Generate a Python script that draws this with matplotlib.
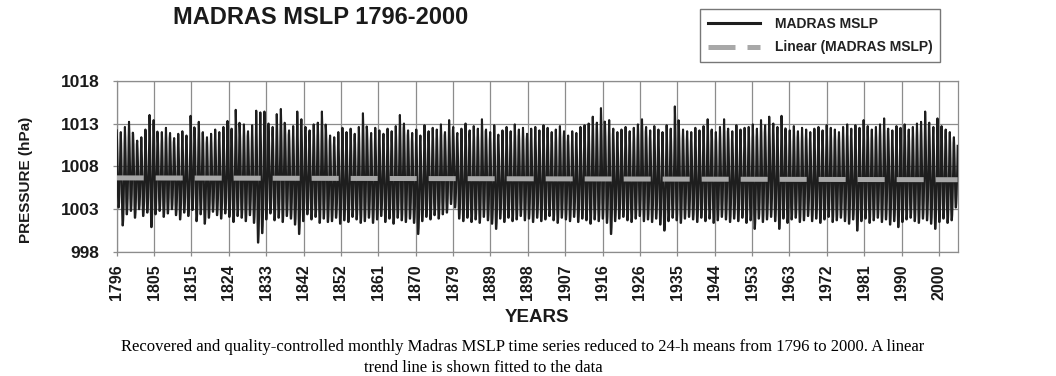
import numpy as np
import matplotlib
matplotlib.use("Agg")
import matplotlib.pyplot as plt

plt.rcParams['font.family'] = ['Liberation Sans', 'DejaVu Sans']
plt.rcParams['path.simplify'] = False   # keep every monthly wiggle

# annual winter high / monsoon low, 1796-2000
year_hi = [
    1012.2, 1012.0, 1012.6, 1013.2, 1011.8, 1011.0, 1011.4, 1012.3, 1014.0, 1013.4,
    1011.6, 1012.0, 1012.5, 1011.9, 1011.3, 1011.8, 1012.1, 1011.6, 1013.9, 1012.4,
    1013.2, 1012.0, 1011.4, 1011.8, 1012.3, 1012.0, 1012.6, 1013.3, 1012.4, 1014.6,
    1012.5, 1012.9, 1012.1, 1012.8, 1014.5, 1014.3, 1014.4, 1013.0, 1012.6, 1014.1,
    1014.7, 1013.0, 1012.2, 1012.7, 1014.4, 1013.5, 1012.6, 1012.2, 1012.9, 1013.1,
    1014.4, 1012.3, 1011.6, 1011.4, 1012.0, 1012.5, 1012.0, 1012.4, 1011.8, 1012.6,
    1014.2, 1012.3, 1011.9, 1012.5, 1012.2, 1011.8, 1012.4, 1012.1, 1012.7, 1014.0,
    1013.0, 1012.2, 1011.9, 1012.3, 1011.6, 1012.8, 1012.1, 1012.5, 1012.3, 1012.9,
    1012.0, 1013.4, 1012.6, 1011.9, 1012.4, 1013.0, 1012.2, 1012.7, 1012.4, 1013.5,
    1012.3, 1012.0, 1012.8, 1011.7, 1012.2, 1012.6, 1012.1, 1012.9, 1012.3, 1012.5,
    1011.8, 1012.4, 1012.6, 1012.2, 1012.8, 1012.5, 1012.0, 1012.3, 1012.7, 1012.1,
    1011.6, 1012.1, 1011.9, 1012.6, 1012.8, 1013.0, 1013.8, 1013.1, 1014.8, 1012.9,
    1013.4, 1012.4, 1012.0, 1012.3, 1012.6, 1012.1, 1012.5, 1012.9, 1013.5, 1012.6,
    1012.2, 1012.7, 1012.3, 1012.0, 1012.8, 1012.4, 1015.0, 1012.6, 1012.3, 1012.1,
    1012.0, 1012.5, 1012.2, 1012.7, 1013.5, 1012.3, 1012.0, 1012.6, 1013.5, 1012.4,
    1012.1, 1012.8, 1012.3, 1012.5, 1012.6, 1012.9, 1012.4, 1013.4, 1012.8, 1013.8,
    1013.0, 1012.6, 1013.9, 1012.4, 1012.2, 1012.7, 1012.1, 1012.5, 1012.3, 1012.0,
    1012.4, 1012.6, 1012.2, 1012.8, 1012.5, 1012.3, 1012.0, 1012.6, 1012.9, 1012.4,
    1012.8, 1012.5, 1013.4, 1012.7, 1012.3, 1012.6, 1012.9, 1013.6, 1012.4, 1012.2,
    1012.7, 1012.5, 1012.9, 1012.3, 1012.6, 1013.0, 1013.2, 1014.4, 1013.1, 1012.6,
    1013.6, 1012.7, 1012.3, 1012.0, 1011.4,
]
year_lo = [
    1003.2, 1001.1, 1002.4, 1002.8, 1002.0, 1003.0, 1002.2, 1002.6, 1000.9, 1002.4,
    1002.8, 1002.1, 1002.5, 1003.0, 1002.3, 1001.8, 1002.6, 1002.2, 1002.9, 1001.6,
    1002.4, 1001.3, 1002.0, 1002.7, 1002.3, 1001.9, 1002.5, 1002.1, 1001.5, 1002.2,
    1002.0, 1001.6, 1002.3, 1001.4, 999.1, 1000.2, 1001.8, 1002.5, 1001.7, 1002.0,
    1001.5, 1002.2, 1001.9, 1001.2, 1000.1, 1001.6, 1002.4, 1001.8, 1002.1, 1001.4,
    1001.9, 1001.5, 1001.6, 1002.0, 1001.3, 1001.7, 1001.5, 1002.1, 1001.8, 1001.4,
    1001.6, 1002.0, 1001.4, 1001.8, 1002.2, 1001.5, 1001.9, 1001.3, 1002.0, 1001.7,
    1001.5, 1001.9, 1001.4, 1000.1, 1001.6, 1002.1, 1001.8, 1002.3, 1001.9, 1002.4,
    1002.6, 1003.6, 1003.2, 1001.9, 1001.6, 1002.0, 1001.5, 1001.8, 1001.4, 1002.1,
    1001.7, 1001.3, 1000.7, 1001.9, 1001.5, 1002.0, 1001.6, 1001.8, 1002.2, 1001.7,
    1001.9, 1001.5, 1002.0, 1001.6, 1001.8, 1002.2, 1001.7, 1001.4, 1002.0, 1001.8,
    1001.6, 1002.1, 1001.5, 1001.9, 1001.7, 1001.3, 1001.8, 1001.6, 1001.9, 1001.4,
    1000.1, 1001.6, 1001.9, 1002.1, 1001.7, 1001.5, 1001.9, 1002.2, 1001.6, 1001.8,
    1001.5, 1001.9, 1001.2, 1000.5, 1001.6, 1002.0, 1001.7, 1001.4, 1001.9, 1002.1,
    1001.8, 1001.5, 1002.0, 1001.6, 1001.9, 1001.4, 1001.7, 1002.1, 1001.8, 1001.5,
    1001.9, 1001.6, 1002.0, 1001.4, 1001.7, 1000.7, 1001.9, 1001.5, 1001.8, 1002.1,
    1001.6, 1000.7, 1001.9, 1001.4, 1001.8, 1002.0, 1001.5, 1001.7, 1002.2, 1001.6,
    1001.9, 1001.4, 1001.8, 1002.1, 1001.5, 1001.7, 1002.0, 1001.6, 1001.3, 1001.8,
    1000.5, 1001.6, 1001.9, 1001.4, 1001.7, 1002.0, 1001.5, 1001.8, 1001.2, 1001.6,
    1000.9, 1001.5, 1001.8, 1002.0, 1001.6, 1001.4, 1001.9, 1001.7, 1001.3, 1000.7,
    1001.5, 1001.9, 1001.4, 1001.7, 1003.2,
]
# mean seasonal cycle Jan..Dec (hPa)
month_clim = [1011.5, 1010.5, 1009.0, 1007.0, 1004.5, 1003.3,
              1003.3, 1003.8, 1004.8, 1006.5, 1008.3, 1010.5]

year_labels = ['1796', '1805', '1815', '1824', '1833', '1842', '1852', '1861',
               '1870', '1879', '1889', '1898', '1907', '1916', '1926', '1935',
               '1944', '1953', '1963', '1972', '1981', '1990', '2000']
y_ticks = [998, 1003, 1008, 1013, 1018]

hi = np.array(year_hi)
lo = np.array(year_lo)
clim = np.array(month_clim)
shape = (clim - clim.min()) / (clim.max() - clim.min())
mslp = (lo[:, None] + (hi - lo)[:, None] * shape[None, :]).ravel()
idx = np.arange(len(mslp))

# linear fit, like the excel trendline
coef = np.polyfit(idx, mslp, 1)
trend = np.polyval(coef, idx)

W, H = 1056, 376
fig = plt.figure(figsize=(W / 100, H / 100), dpi=100)
ax = fig.add_axes([116.7 / W, 1 - 252 / H, (958 - 116.7) / W, (252 - 80.7) / H])

ax.plot(idx, mslp, color='#1e1e1e', lw=1.5, label='MADRAS MSLP', zorder=3)
ax.plot(idx, trend, color='#a8a8a8', lw=3.6, dashes=(5.4, 2.4),
        label='Linear (MADRAS MSLP)', zorder=4)

ax.set_xlim(0, len(mslp))
ax.set_ylim(998, 1018)
ax.set_yticks(y_ticks)
ax.set_xticks(np.linspace(0, 0.9774 * len(mslp), len(year_labels)))
ax.set_xticklabels(year_labels, rotation=90)
ax.grid(True, color='#8c8c8c', lw=0.9)
ax.set_axisbelow(True)
for s in ax.spines.values():
    s.set_color('#8c8c8c')
    s.set_linewidth(0.9)
ax.tick_params(axis='both', colors='#8c8c8c', length=3, width=0.9,
               labelcolor='#1a1a1a')
ax.tick_params(axis='y', labelsize=12.5, pad=9.5)
ax.tick_params(axis='x', labelsize=11.5, pad=6)
for t in ax.get_xticklabels() + ax.get_yticklabels():
    t.set_fontweight('bold')

ax.set_ylabel('PRESSURE (hPa)', fontsize=11, fontweight='bold', color='#1a1a1a')
ax.yaxis.set_label_coords((33 - 116.7) / 841.3, 0.42)
ax.set_xlabel('YEARS', fontsize=13.5, fontweight='bold', color='#1a1a1a')
ax.xaxis.set_label_coords(0.5, (252 - 309) / 171.3)

fig.text(321 / W, 1 - 18 / H, 'MADRAS MSLP 1796-2000', fontsize=17, fontweight='bold',
         ha='center', va='center', color='#1a1a1a')

leg = fig.legend(loc='upper left', bbox_to_anchor=(700 / W, 1 - 9 / H),
                 frameon=True, fancybox=False, fontsize=10, handlelength=3.75,
                 handletextpad=1.1, borderpad=0.55, labelspacing=0.7,
                 borderaxespad=0)
leg.get_frame().set_edgecolor('#555555')
leg.get_frame().set_linewidth(1.0)
leg.get_lines()[0].set_linewidth(2.2)
for t in leg.get_texts():
    t.set_fontweight('bold')
    t.set_color('#222222')

cap1 = ('Recovered and quality-controlled monthly Madras MSLP time series reduced '
        'to 24-h means from 1796 to 2000. A linear')
cap2 = 'trend line is shown fitted to the data'
serif = ['Liberation Serif', 'DejaVu Serif']
fig.text(523 / W, 1 - 347 / H, cap1, fontsize=12, ha='center', va='center', family=serif)
fig.text(483 / W, 1 - 368 / H, cap2, fontsize=12, ha='center', va='center', family=serif)

fig.savefig('out.png', dpi=100)
